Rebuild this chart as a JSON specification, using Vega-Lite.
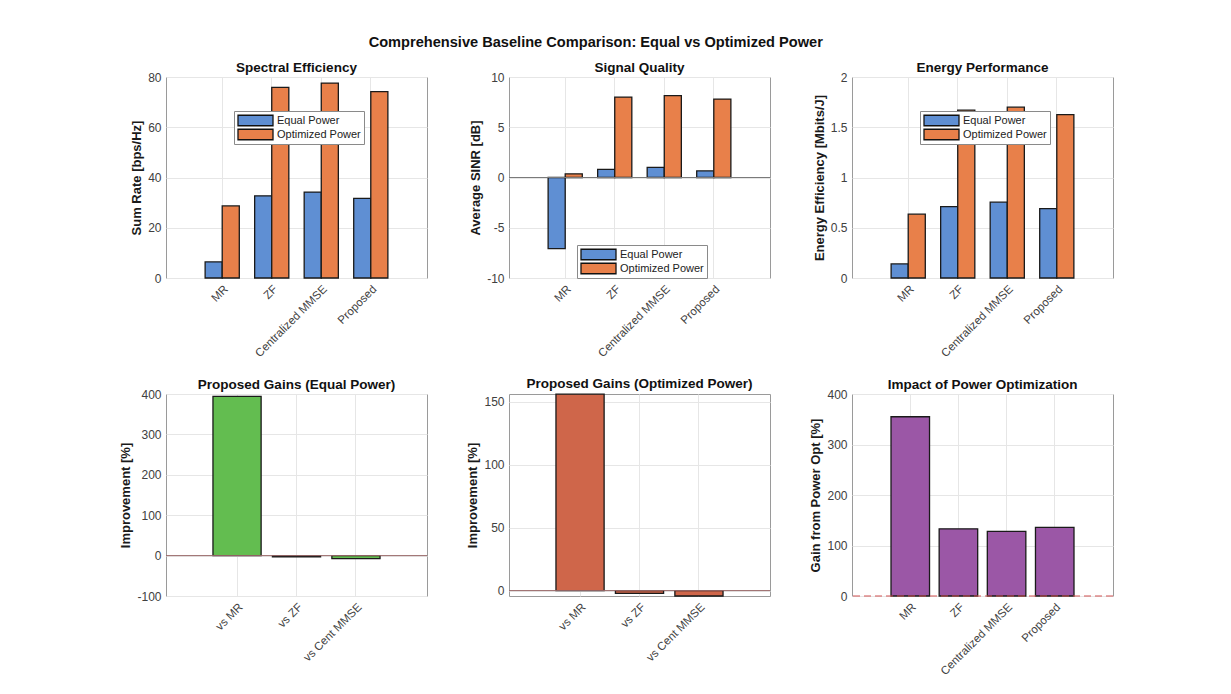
{
  "$schema": "https://vega.github.io/schema/vega-lite/v6.json",
  "background": "white",
  "padding": {"left": 119, "top": 35, "right": 5, "bottom": 5},
  "title": {"text": "Comprehensive Baseline Comparison: Equal vs Optimized Power", "fontSize": 14.6, "anchor": "middle", "offset": 10, "dx": -21, "color": "#111111"},
  "datasets": {
    "se": [
      {"method": "MR", "power": "Equal Power", "value": 6.4},
      {"method": "MR", "power": "Optimized Power", "value": 28.7},
      {"method": "ZF", "power": "Equal Power", "value": 32.7},
      {"method": "ZF", "power": "Optimized Power", "value": 75.9},
      {"method": "Centralized MMSE", "power": "Equal Power", "value": 34.2},
      {"method": "Centralized MMSE", "power": "Optimized Power", "value": 77.6},
      {"method": "Proposed", "power": "Equal Power", "value": 31.7},
      {"method": "Proposed", "power": "Optimized Power", "value": 74.2}
    ],
    "sinr": [
      {"method": "MR", "power": "Equal Power", "value": -7.08},
      {"method": "MR", "power": "Optimized Power", "value": 0.37},
      {"method": "ZF", "power": "Equal Power", "value": 0.8},
      {"method": "ZF", "power": "Optimized Power", "value": 8.0},
      {"method": "Centralized MMSE", "power": "Equal Power", "value": 1.0},
      {"method": "Centralized MMSE", "power": "Optimized Power", "value": 8.14},
      {"method": "Proposed", "power": "Equal Power", "value": 0.66},
      {"method": "Proposed", "power": "Optimized Power", "value": 7.8}
    ],
    "ee": [
      {"method": "MR", "power": "Equal Power", "value": 0.14},
      {"method": "MR", "power": "Optimized Power", "value": 0.635},
      {"method": "ZF", "power": "Equal Power", "value": 0.71},
      {"method": "ZF", "power": "Optimized Power", "value": 1.67},
      {"method": "Centralized MMSE", "power": "Equal Power", "value": 0.754},
      {"method": "Centralized MMSE", "power": "Optimized Power", "value": 1.70},
      {"method": "Proposed", "power": "Equal Power", "value": 0.69},
      {"method": "Proposed", "power": "Optimized Power", "value": 1.625}
    ],
    "geq": [
      {"cmp": "vs MR", "value": 394},
      {"cmp": "vs ZF", "value": -3.1},
      {"cmp": "vs Cent MMSE", "value": -7.3}
    ],
    "gopt": [
      {"cmp": "vs MR", "value": 156},
      {"cmp": "vs ZF", "value": -2.2},
      {"cmp": "vs Cent MMSE", "value": -4.3}
    ],
    "impact": [
      {"method": "MR", "value": 355},
      {"method": "ZF", "value": 133},
      {"method": "Centralized MMSE", "value": 128},
      {"method": "Proposed", "value": 136}
    ],
    "one": [{}]
  },
  "columns": 3,
  "spacing": {"row": 116, "column": 82},
  "bounds": "flush",
  "resolve": {"scale": {"color": "independent"}, "legend": {"color": "independent"}},
  "concat": [
    {
      "width": 261, "height": 201,
      "title": "Spectral Efficiency",
      "data": {"name": "se"},
      "mark": {"type": "bar"},
      "encoding": {
        "x": {"field": "method", "type": "nominal", "scale": {"domain": ["MR", "ZF", "Centralized MMSE", "Proposed"], "paddingInner": 0.31, "paddingOuter": 0.79}, "axis": {"title": null, "labelAngle": -45, "bandPosition": 0.5, "labelFontSize": 11.5}},
        "xOffset": {"field": "power", "type": "nominal", "scale": {"domain": ["Equal Power", "Optimized Power"]}},
        "y": {"field": "value", "type": "quantitative", "stack": null, "scale": {"domain": [0, 80], "nice": false}, "axis": {"title": "Sum Rate [bps/Hz]", "values": [0, 20, 40, 60, 80], "labelExpr": "'' + datum.value"}},
        "color": {"field": "power", "type": "nominal", "scale": {"domain": ["Equal Power", "Optimized Power"], "range": ["#5f8fd3", "#e8804a"]}, "legend": {"legendX": 68, "legendY": 34}}
      }
    },
    {
      "width": 261, "height": 201,
      "title": "Signal Quality",
      "layer": [
        {
          "data": {"name": "sinr"},
          "mark": {"type": "bar"},
          "encoding": {
            "x": {"field": "method", "type": "nominal", "scale": {"domain": ["MR", "ZF", "Centralized MMSE", "Proposed"], "paddingInner": 0.31, "paddingOuter": 0.79}, "axis": {"title": null, "labelAngle": -45, "bandPosition": 0.5, "labelFontSize": 11.5}},
            "xOffset": {"field": "power", "type": "nominal", "scale": {"domain": ["Equal Power", "Optimized Power"]}},
            "y": {"field": "value", "type": "quantitative", "stack": null, "scale": {"domain": [-10, 10], "nice": false}, "axis": {"title": "Average SINR [dB]", "values": [-10, -5, 0, 5, 10], "labelExpr": "'' + datum.value"}},
            "color": {"field": "power", "type": "nominal", "scale": {"domain": ["Equal Power", "Optimized Power"], "range": ["#5f8fd3", "#e8804a"]}, "legend": {"legendX": 68, "legendY": 168}}
          }
        },
        {
          "data": {"name": "one"},
          "mark": {"type": "rule", "color": "#7a7a7a", "strokeWidth": 1},
          "encoding": {"y": {"datum": 0}}
        }
      ]
    },
    {
      "width": 261, "height": 201,
      "title": "Energy Performance",
      "data": {"name": "ee"},
      "mark": {"type": "bar"},
      "encoding": {
        "x": {"field": "method", "type": "nominal", "scale": {"domain": ["MR", "ZF", "Centralized MMSE", "Proposed"], "paddingInner": 0.31, "paddingOuter": 0.79}, "axis": {"title": null, "labelAngle": -45, "bandPosition": 0.5, "labelFontSize": 11.5}},
        "xOffset": {"field": "power", "type": "nominal", "scale": {"domain": ["Equal Power", "Optimized Power"]}},
        "y": {"field": "value", "type": "quantitative", "stack": null, "scale": {"domain": [0, 2], "nice": false}, "axis": {"title": "Energy Efficiency [Mbits/J]", "values": [0, 0.5, 1, 1.5, 2], "labelExpr": "'' + datum.value"}},
        "color": {"field": "power", "type": "nominal", "scale": {"domain": ["Equal Power", "Optimized Power"], "range": ["#5f8fd3", "#e8804a"]}, "legend": {"legendX": 68, "legendY": 34}}
      }
    },
    {
      "width": 261, "height": 202,
      "title": "Proposed Gains (Equal Power)",
      "layer": [
        {
          "data": {"name": "geq"},
          "mark": {"type": "bar", "color": "#63bd50"},
          "encoding": {
            "x": {"field": "cmp", "type": "nominal", "scale": {"domain": ["vs MR", "vs ZF", "vs Cent MMSE"], "paddingInner": 0.19, "paddingOuter": 0.79}, "axis": {"title": null, "labelAngle": -45, "bandPosition": 0.5, "labelFontSize": 11.5}},
            "y": {"field": "value", "type": "quantitative", "stack": null, "scale": {"domain": [-100, 400], "nice": false}, "axis": {"title": "Improvement [%]", "values": [-100, 0, 100, 200, 300, 400], "labelExpr": "'' + datum.value"}}
          }
        },
        {
          "data": {"name": "one"},
          "mark": {"type": "rule", "color": "#9a6a6a", "strokeWidth": 1},
          "encoding": {"y": {"datum": 0}}
        }
      ]
    },
    {
      "width": 261, "height": 202,
      "title": {"text": "Proposed Gains (Optimized Power)", "offset": 3},
      "layer": [
        {
          "data": {"name": "gopt"},
          "mark": {"type": "bar", "color": "#cf664a"},
          "encoding": {
            "x": {"field": "cmp", "type": "nominal", "scale": {"domain": ["vs MR", "vs ZF", "vs Cent MMSE"], "paddingInner": 0.19, "paddingOuter": 0.79}, "axis": {"title": null, "labelAngle": -45, "bandPosition": 0.5, "labelFontSize": 11.5}},
            "y": {"field": "value", "type": "quantitative", "stack": null, "scale": {"domain": [-4.3, 156.1], "nice": false}, "axis": {"title": "Improvement [%]", "values": [0, 50, 100, 150], "labelExpr": "'' + datum.value"}}
          }
        },
        {
          "data": {"name": "one"},
          "mark": {"type": "rule", "color": "#9a6a6a", "strokeWidth": 1},
          "encoding": {"y": {"datum": 0}}
        }
      ]
    },
    {
      "width": 261, "height": 202,
      "title": "Impact of Power Optimization",
      "layer": [
        {
          "data": {"name": "impact"},
          "mark": {"type": "bar", "color": "#9b57a6"},
          "encoding": {
            "x": {"field": "method", "type": "nominal", "scale": {"domain": ["MR", "ZF", "Centralized MMSE", "Proposed"], "paddingInner": 0.2, "paddingOuter": 0.81}, "axis": {"title": null, "labelAngle": -45, "bandPosition": 0.5, "labelFontSize": 11.5}},
            "y": {"field": "value", "type": "quantitative", "stack": null, "scale": {"domain": [0, 400], "nice": false}, "axis": {"title": "Gain from Power Opt [%]", "values": [0, 100, 200, 300, 400], "labelExpr": "'' + datum.value"}}
          }
        },
        {
          "data": {"name": "one"},
          "mark": {"type": "rule", "color": "#d05050", "strokeWidth": 1, "strokeDash": [7, 4]},
          "encoding": {"y": {"datum": 0}}
        }
      ]
    }
  ],
  "config": {
    "font": "Liberation Sans",
    "view": {"stroke": "#9a9a9a", "strokeWidth": 1},
    "axis": {
      "labelFont": "Liberation Sans", "labelFontSize": 12, "labelColor": "#404040",
      "titleFont": "Liberation Sans", "titleFontSize": 13, "titleFontWeight": "bold", "titleColor": "#1a1a1a",
      "domain": false, "ticks": false, "grid": true, "gridColor": "#e6e6e6",
      "labelPadding": 5, "titlePadding": 4
    },
    "title": {"font": "Liberation Sans", "fontSize": 13.5, "fontWeight": "bold", "color": "#111111", "offset": -3},
    "legend": {
      "orient": "none", "title": null, "fillColor": "white", "strokeColor": "#8a8a8a", "padding": 3,
      "symbolType": "M-1,-0.3H1V0.3H-1Z", "symbolSize": 1225, "symbolStrokeColor": "#111111", "symbolStrokeWidth": 1.3,
      "symbolOpacity": 1, "labelFont": "Liberation Sans", "labelFontSize": 11, "labelColor": "#222222",
      "rowPadding": 1, "labelOffset": 3, "clipHeight": 13
    },
    "bar": {"stroke": "#1a1a1a", "strokeWidth": 1.3, "opacity": 1}
  }
}
